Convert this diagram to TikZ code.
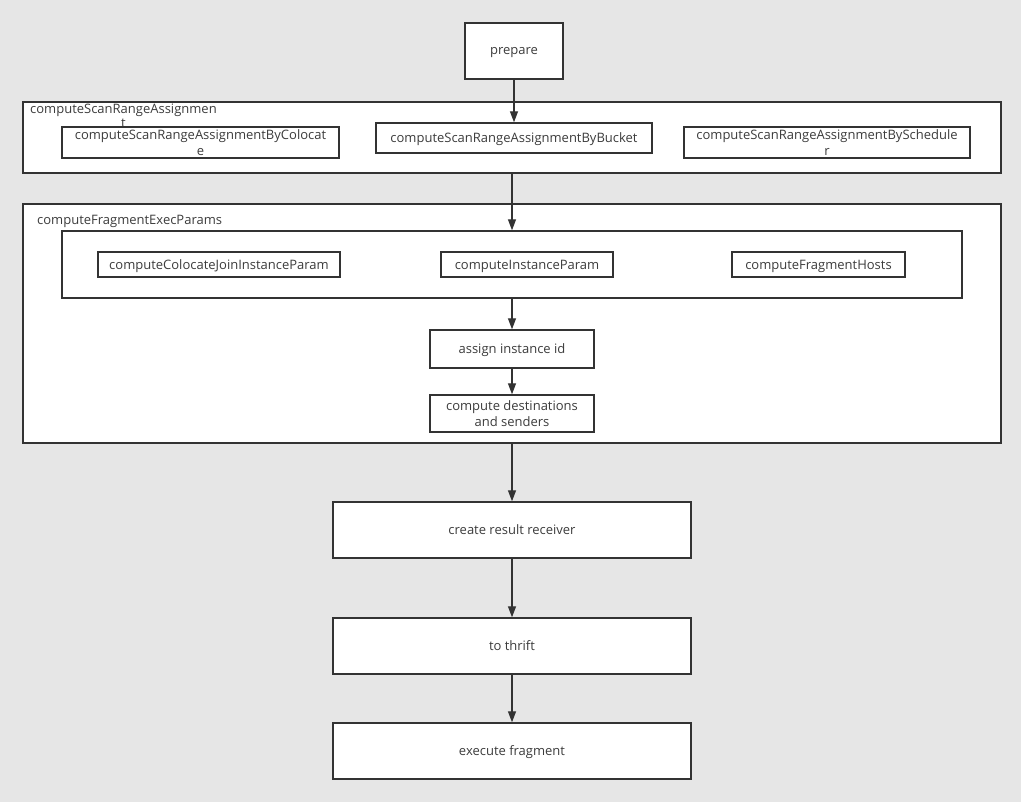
\documentclass[tikz,border=0pt]{standalone}
\usepackage{fontspec}
\setmainfont{Open Sans}
\usetikzlibrary{arrows.meta,shapes,positioning}
\definecolor{bggray}{HTML}{E6E6E6}
\definecolor{linegray}{HTML}{333333}
\definecolor{txtgray}{HTML}{3C3C3C}

\begin{document}
\begin{tikzpicture}[x=1pt,y=-1pt,>={Triangle[length=11pt,width=8pt]},
    font=\fontsize{13}{16}\selectfont]
        \tikzstyle{blk}=[rectangle,draw=linegray,line width=1.4pt,fill=white,text=txtgray,inner sep=0pt,text depth=0pt,align=center]
        \tikzstyle{grp}=[rectangle,draw=linegray,line width=1.4pt,fill=white,inner sep=0pt]
        \tikzstyle{lbl}=[text=txtgray,inner sep=0pt,align=center]
        \tikzstyle{flow}=[->,draw=linegray,line width=1.3pt]
        \fill[bggray] (0,0) rectangle (1021,802);
        \useasboundingbox (0,0) rectangle (1021,802);
        % outer groups
        \node[grp,minimum width=978pt,minimum height=71pt](scan) at (512,137.5){};
        \node[grp,minimum width=978pt,minimum height=239pt](frag) at (512,323.5){};
        \node[grp,minimum width=900pt,minimum height=67pt](inst) at (512,264.5){};
        \node[lbl,anchor=north west,font=\fontsize{13}{14}\selectfont](scanlbl) at (30,104){computeScanRangeAssignmen\\t};
        \node[lbl,anchor=west](fraglbl) at (37,221){computeFragmentExecParams};
        % steps
        \node[blk,minimum width=98pt,minimum height=56pt](prep) at (514,51){prepare};
        \node[blk,minimum width=277pt,minimum height=31pt](colo) at (200.5,142.5){computeScanRangeAssignmentByColocat\\e};
        \node[blk,minimum width=276pt,minimum height=30pt](buck) at (514,138){computeScanRangeAssignmentByBucket};
        \node[blk,minimum width=286pt,minimum height=31pt](sched) at (827,142.5){computeScanRangeAssignmentBySchedule\\r};
        \node[blk,minimum width=242pt,minimum height=25pt](join) at (219,264.5){computeColocateJoinInstanceParam};
        \node[blk,minimum width=172pt,minimum height=25pt](param) at (527,264.5){computeInstanceParam};
        \node[blk,minimum width=173pt,minimum height=25pt](hosts) at (818.5,264.5){computeFragmentHosts};
        \node[blk,minimum width=164pt,minimum height=38pt](asgn) at (512,349){assign instance id};
        \node[blk,minimum width=164pt,minimum height=37pt](dest) at (512,413.5){compute destinations\\and senders};
        \node[blk,minimum width=358pt,minimum height=56pt](recv) at (512,530){create result receiver};
        \node[blk,minimum width=358pt,minimum height=56pt](thrift) at (512,646){to thrift};
        \node[blk,minimum width=358pt,minimum height=56pt](exec) at (512,751){execute fragment};
        % arrows
        \draw[flow] (prep) -- (buck);
        \draw[flow] (scan.south -| inst.north) -- (inst.north);
        \draw[flow] (inst.south -| asgn.north) -- (asgn.north);
        \draw[flow] (asgn) -- (dest);
        \draw[flow] (frag.south -| recv.north) -- (recv);
        \draw[flow] (recv) -- (thrift);
        \draw[flow] (thrift) -- (exec);
\end{tikzpicture}
\end{document}
